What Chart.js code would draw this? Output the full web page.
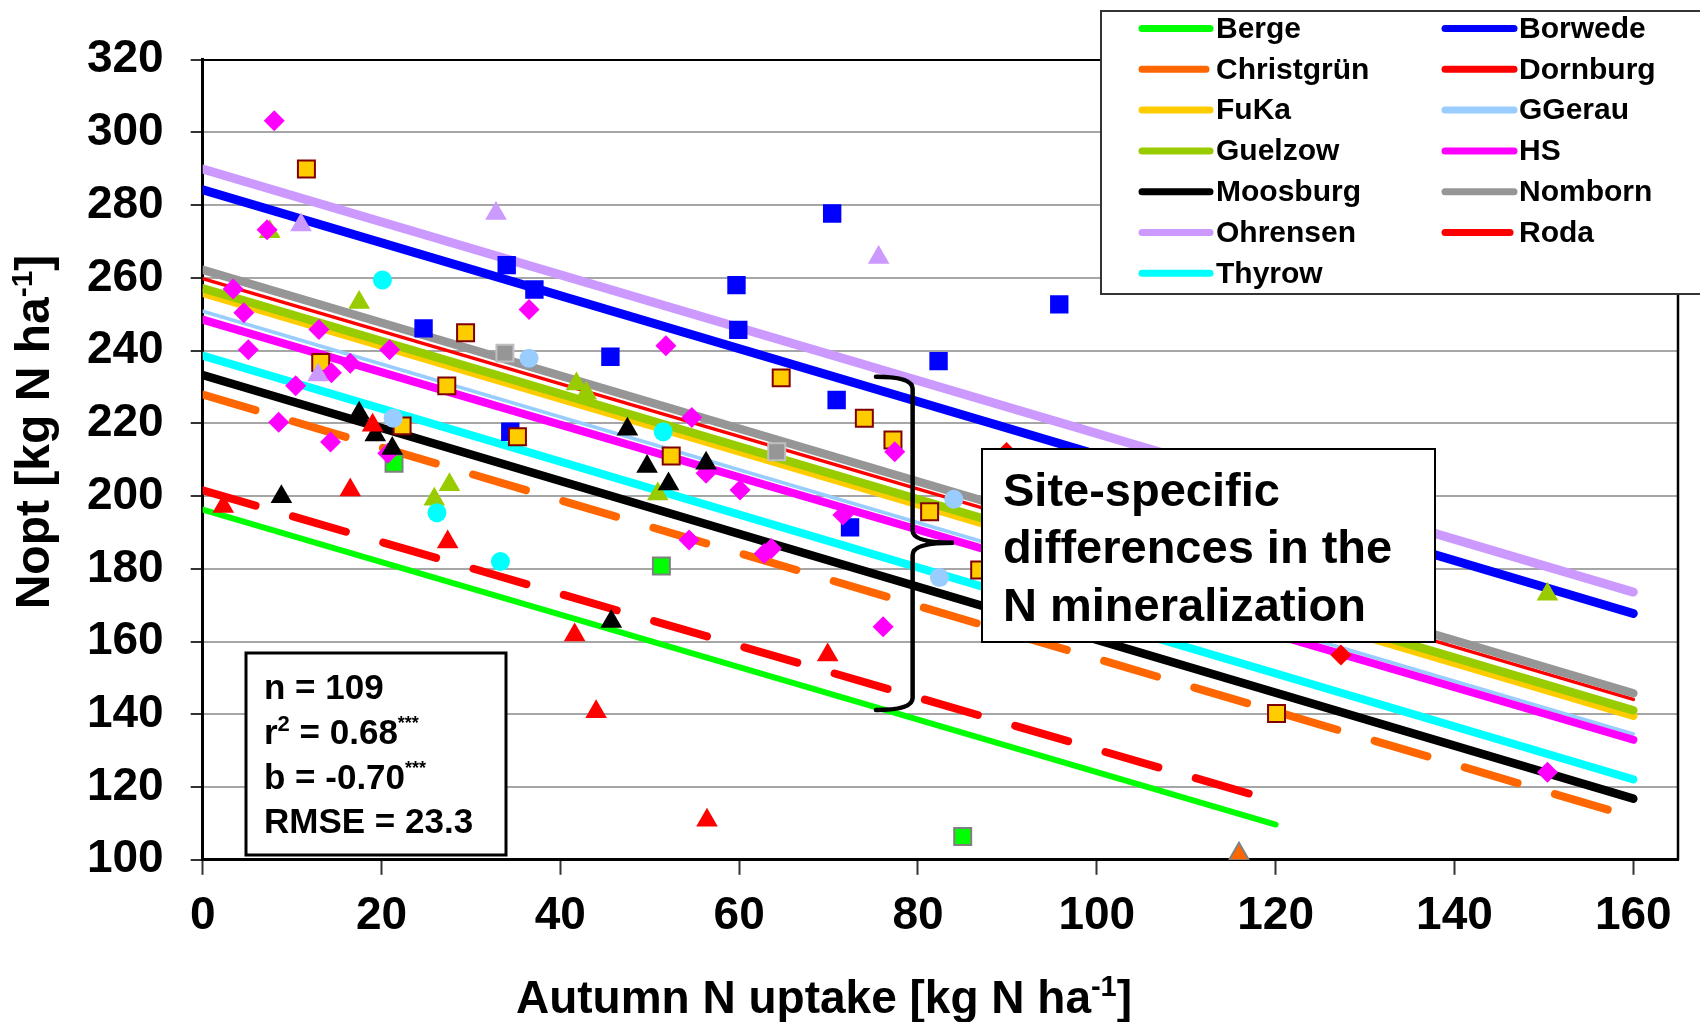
<!DOCTYPE html>
<html>
<head>
<meta charset="utf-8">
<title>Nopt vs autumn N uptake</title>
<script src="https://cdn.jsdelivr.net/npm/chart.js@4.4.1/dist/chart.umd.min.js"></script>
<style>
  html, body { margin: 0; padding: 0; background: #fff; }
  #wrap { width: 1700px; height: 1022px; }
</style>
</head>
<body>
<div id="wrap"><canvas id="grafico" width="1700" height="1022"></canvas></div>
<script>
const FONT = "'Liberation Sans', Arial, Helvetica, sans-serif";

// sites in legend order
const sites = ['Berge', 'Borwede', 'Christgrün', 'Dornburg', 'FuKa', 'GGerau', 'Guelzow',
               'HS', 'Moosburg', 'Nomborn', 'Ohrensen', 'Roda', 'Thyrow'];

// fitted lines per site: Nopt at x = 0 and at the end of the line
const lineStartY = [196.3, 284.2, 227.9, 259.8, 255.9, 250.8, 257.1, 248.5, 233.3, 262.2, 289.9, 201.6, 238.6];
const lineEndX   = [120, 160, 160, 160, 160, 160, 160, 160, 160, 160, 160, 118, 160];
const lineEndY   = [109.7, 167.7, 111.7, 144.1, 139.6, 134.6, 141.1, 133.0, 116.8, 145.8, 173.6, 117.5, 122.1];

// measured points [autumn N uptake, Nopt]
const ptsBerge = [[21.4, 209.0], [51.3, 180.8], [85.0, 106.4]];
const ptsBorwede = [[24.7, 246.1], [34.0, 263.5], [37.1, 256.8], [34.4, 217.7], [45.6, 238.3], [59.7, 258.0],
                    [59.9, 245.7], [70.4, 277.7], [70.9, 226.4], [72.4, 191.4], [82.3, 237.1], [95.8, 252.7]];
const ptsChristgruen = [[115.9, 101.5]];
const ptsDornburg = [[89.9, 212.0], [127.3, 156.3]];
const ptsFuKa = [[11.6, 289.9], [13.2, 236.7], [22.3, 219.3], [27.3, 230.3], [29.4, 244.9], [35.2, 216.3],
                 [52.4, 211.0], [64.7, 232.5], [74.0, 221.4], [77.2, 215.4], [81.3, 195.7], [86.9, 179.7], [120.1, 140.2]];
const ptsGGerau = [[21.3, 221.4], [36.5, 237.9], [82.4, 177.6], [84.0, 199.1]];
const ptsGuelzow = [[7.5, 272.7], [17.5, 253.2], [25.9, 199.1], [27.6, 203.1], [41.8, 230.8], [42.9, 228.3],
                    [50.9, 200.6], [150.4, 173.0]];
const ptsHS = [[3.4, 256.9], [4.6, 250.4], [5.1, 240.2], [7.2, 273.2], [8.0, 303.2], [8.5, 220.3], [10.4, 230.3],
               [13.0, 245.8], [14.3, 214.9], [14.4, 233.9], [16.5, 236.5], [20.7, 211.8], [20.9, 240.2], [36.5, 251.3],
               [51.8, 241.3], [54.4, 187.9], [54.7, 221.6], [56.3, 206.3], [60.1, 201.7], [62.8, 184.2], [63.6, 185.6],
               [71.6, 194.8], [76.1, 164.1], [77.4, 212.2], [150.4, 124.1]];
const ptsMoosburg = [[8.8, 199.8], [17.5, 222.8], [19.3, 216.8], [21.2, 213.1], [45.7, 165.5], [47.5, 218.4],
                     [49.7, 208.1], [52.1, 203.3], [56.3, 209.0]];
const ptsNomborn = [[33.8, 239.3], [64.2, 212.2]];
const ptsOhrensen = [[11.0, 274.5], [12.9, 233.3], [32.8, 277.7], [75.6, 265.6]];
const ptsRoda = [[2.3, 197.1], [16.5, 201.7], [19.0, 219.5], [27.4, 187.4], [41.6, 161.8], [44.0, 140.7],
                 [56.4, 110.9], [69.9, 156.3]];
const ptsThyrow = [[20.1, 259.4], [26.2, 195.4], [33.3, 182.0], [51.5, 217.7]];

const pointSets = [ptsBerge, ptsBorwede, ptsChristgruen, ptsDornburg, ptsFuKa, ptsGGerau, ptsGuelzow,
                   ptsHS, ptsMoosburg, ptsNomborn, ptsOhrensen, ptsRoda, ptsThyrow];

const xTicks = [0, 20, 40, 60, 80, 100, 120, 140, 160];
const yTicks = [100, 120, 140, 160, 180, 200, 220, 240, 260, 280, 300, 320];

// styling
const siteColors  = ['#00FF00', '#0000FF', '#FF6600', '#FF0000', '#FFCC00', '#99CCFF', '#99CC00',
                     '#FF00FF', '#000000', '#969696', '#CC99FF', '#FF0000', '#00FFFF'];
const lineWidths  = [6, 9, 8, 3.5, 8.5, 3.5, 8.5, 8, 8.5, 8.5, 9, 8, 8];
const dashedLine  = [false, false, true, false, false, false, false, false, false, false, false, true, false];
const markerStyle = ['rect', 'rect', 'triangle', 'rectRot', 'rect', 'circle', 'triangle',
                     'rectRot', 'triangle', 'rect', 'triangle', 'triangle', 'circle'];
const markerEdge  = ['#808080', null, '#808080', null, '#800000', null, null, null, null, '#C0C0C0', null, null, null];
const markerSize  = { rect: 13, rectRot: 10.5, triangle: 12.5, circle: 9.5 };

const datasets = [];
sites.forEach((name, i) => {
  datasets.push({
    label: name,
    showLine: true,
    data: [{ x: 0, y: lineStartY[i] }, { x: lineEndX[i], y: lineEndY[i] }],
    borderColor: siteColors[i],
    borderWidth: lineWidths[i],
    borderDash: dashedLine[i] ? [55, 39] : [],
    borderCapStyle: 'round',
    pointRadius: 0,
    pointHoverRadius: 0,
    order: 100 - i
  });
});
sites.forEach((name, i) => {
  const edge = markerEdge[i];
  const r = markerSize[markerStyle[i]] - (edge ? 1 : 0);
  datasets.push({
    label: name + ' (obs.)',
    showLine: false,
    data: pointSets[i].map(([x, y]) => ({ x, y })),
    pointStyle: markerStyle[i],
    pointRadius: r,
    pointHoverRadius: r,
    pointBackgroundColor: siteColors[i],
    pointBorderColor: edge || siteColors[i],
    pointBorderWidth: edge ? 2 : 0,
    order: 50 - i
  });
});

// text with superscript parts, e.g. [['r'], ['2', 'sup']]
function drawRuns(ctx, runs, x, y, size, align) {
  const fontFor = kind => {
    if (kind === 'sup') return `bold ${Math.round(size * 0.62)}px ${FONT}`;
    if (kind === 'star') return `bold ${Math.round(size * 0.5)}px ${FONT}`;
    return `bold ${size}px ${FONT}`;
  };
  const rise = kind => kind === 'sup' ? size * 0.36 : kind === 'star' ? size * 0.42 : 0;
  let w = 0;
  runs.forEach(([t, k]) => { ctx.font = fontFor(k); w += ctx.measureText(t).width; });
  let cx = align === 'center' ? x - w / 2 : x;
  ctx.textAlign = 'left';
  ctx.textBaseline = 'alphabetic';
  runs.forEach(([t, k]) => {
    ctx.font = fontFor(k);
    ctx.fillText(t, cx, y - rise(k));
    cx += ctx.measureText(t).width;
  });
}

const decor = {
  id: 'decor',
  afterDatasetsDraw(chart) {
    const { ctx, chartArea: a, scales: { x, y } } = chart;
    ctx.save();

    // right frame of the plot area
    ctx.strokeStyle = '#000';
    ctx.lineWidth = 2.5;
    ctx.beginPath();
    ctx.moveTo(a.right, a.top);
    ctx.lineTo(a.right, a.bottom);
    ctx.stroke();

    // curly brace spanning the site lines at ~80 kg N
    const bx = x.getPixelForValue(79.4);
    const bl = x.getPixelForValue(75.3);
    const br = x.getPixelForValue(84.0);
    const yt = y.getPixelForValue(232.8);
    const ym = y.getPixelForValue(187.2);
    const yb = y.getPixelForValue(141.2);
    const c = 12;
    ctx.lineWidth = 4.5;
    ctx.lineCap = 'round';
    ctx.beginPath();
    ctx.moveTo(bl, yt);
    ctx.quadraticCurveTo(bx, yt, bx, yt + c);
    ctx.lineTo(bx, ym - c);
    ctx.quadraticCurveTo(bx, ym, br, ym);
    ctx.quadraticCurveTo(bx, ym, bx, ym + c);
    ctx.lineTo(bx, yb - c);
    ctx.quadraticCurveTo(bx, yb, bl, yb);
    ctx.stroke();

    // regression statistics
    ctx.fillStyle = '#fff';
    ctx.fillRect(246, 653, 260, 202);
    ctx.lineWidth = 3;
    ctx.strokeRect(246, 653, 260, 202);
    ctx.fillStyle = '#000';
    drawRuns(ctx, [['n = 109']], 264, 699, 35);
    drawRuns(ctx, [['r'], ['2', 'sup'], [' = 0.68'], ['***', 'star']], 264, 744, 35);
    drawRuns(ctx, [['b = -0.70'], ['***', 'star']], 264, 789, 35);
    drawRuns(ctx, [['RMSE = 23.3']], 264, 833, 35);

    // annotation box
    ctx.fillStyle = '#fff';
    ctx.fillRect(982, 449, 453, 193);
    ctx.lineWidth = 2;
    ctx.strokeRect(982, 449, 453, 193);
    ctx.fillStyle = '#000';
    drawRuns(ctx, [['Site-specific']], 1003, 506, 47);
    drawRuns(ctx, [['differences in the']], 1003, 563, 47);
    drawRuns(ctx, [['N mineralization']], 1003, 621, 47);
    ctx.restore();
  },
  afterDraw(chart) {
    const { ctx } = chart;
    ctx.save();

    // legend of the fitted lines, two columns
    ctx.fillStyle = '#fff';
    ctx.fillRect(1101, 11, 640, 283);
    ctx.strokeStyle = '#333';
    ctx.lineWidth = 2;
    ctx.strokeRect(1101, 11, 640, 283);
    const lines = chart.data.datasets.filter(d => d.showLine);
    lines.forEach((d, k) => {
      const row = Math.floor(k / 2), col = k % 2;
      const ly = 28.5 + row * 40.8;
      const x0 = col ? 1445 : 1142;
      const x1 = (col ? 1514 : 1210) - (d.borderDash.length ? 4 : 0);
      ctx.strokeStyle = d.borderColor;
      ctx.lineWidth = 7;
      ctx.lineCap = 'round';
      ctx.beginPath();
      ctx.moveTo(x0, ly);
      ctx.lineTo(x1, ly);
      ctx.stroke();
      ctx.fillStyle = '#000';
      ctx.font = `bold 30px ${FONT}`;
      ctx.textAlign = 'left';
      ctx.textBaseline = 'middle';
      ctx.fillText(d.label, col ? 1519 : 1216, ly + 1);
    });

    // axis titles
    ctx.fillStyle = '#000';
    drawRuns(ctx, [['Autumn N uptake [kg N ha'], ['-1', 'sup'], [']']], 824, 1013, 46, 'center');
    ctx.translate(49, 432);
    ctx.rotate(-Math.PI / 2);
    drawRuns(ctx, [['Nopt [kg N ha'], ['-1', 'sup'], [']']], 0, 0, 48, 'center');
    ctx.restore();
  }
};

const tickFont = { family: FONT, size: 46, weight: 'bold' };

new Chart(document.getElementById('grafico'), {
  type: 'scatter',
  data: { datasets },
  options: {
    responsive: false,
    devicePixelRatio: 1,
    animation: false,
    events: [],
    layout: { padding: { top: 59.6, right: 22, bottom: 0, left: 0 } },
    plugins: { legend: { display: false }, tooltip: { enabled: false } },
    scales: {
      x: {
        type: 'linear',
        min: 0,
        max: 165,
        afterBuildTicks: s => { s.ticks = xTicks.map(v => ({ value: v })); },
        afterFit: s => { s.height = 162.2; },
        border: { color: '#000', width: 3 },
        grid: { drawOnChartArea: false, tickLength: 15, tickColor: '#333', tickWidth: 2 },
        ticks: { font: tickFont, color: '#000', padding: 14, maxRotation: 0, autoSkip: false }
      },
      y: {
        type: 'linear',
        min: 100,
        max: 320,
        afterBuildTicks: s => { s.ticks = yTicks.map(v => ({ value: v })); },
        afterFit: s => { s.width = 202.7; },
        border: { color: '#000', width: 3 },
        grid: {
          color: c => (c.tick && c.tick.value === 320 ? '#000' : '#A6A6A6'),
          lineWidth: 2,
          tickLength: 12,
          tickColor: '#333',
          tickWidth: 2
        },
        ticks: { font: tickFont, color: '#000', padding: 27, autoSkip: false }
      }
    }
  },
  plugins: [decor]
});
</script>
</body>
</html>
